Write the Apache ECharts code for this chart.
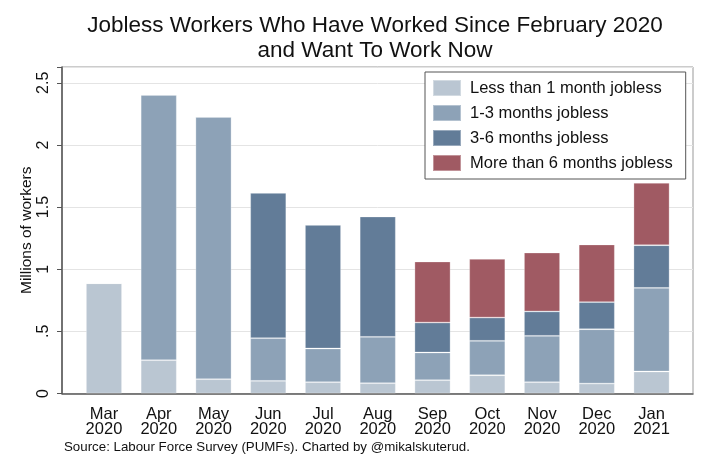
<!DOCTYPE html>
<html>
<head>
<meta charset="utf-8">
<script src="https://cdn.jsdelivr.net/npm/echarts@6/dist/echarts.min.js"></script>
<style>html,body{margin:0;padding:0;background:#fff}#c{width:714px;height:466px}</style>
</head>
<body>
<div id="c"></div>
<script>
const categories = ['Mar\n2020','Apr\n2020','May\n2020','Jun\n2020','Jul\n2020','Aug\n2020','Sep\n2020','Oct\n2020','Nov\n2020','Dec\n2020','Jan\n2021'];
const seriesNames = ['Less than 1 month jobless','1-3 months jobless','3-6 months jobless','More than 6 months jobless'];
const lessThan1 = [0.887, 0.268, 0.115, 0.102, 0.091, 0.083, 0.107, 0.147, 0.091, 0.080, 0.177];
const months1to3 = [0, 2.135, 2.111, 0.343, 0.271, 0.373, 0.223, 0.277, 0.373, 0.437, 0.673];
const months3to6 = [0, 0, 0, 1.170, 0.995, 0.968, 0.241, 0.187, 0.196, 0.218, 0.343];
const months6plus = [0, 0, 0, 0, 0, 0, 0.491, 0.472, 0.474, 0.464, 0.502];
const yTicks = [0, 0.5, 1, 1.5, 2, 2.5];

const colors = ['#BAC6D2', '#8DA2B7', '#627C98', '#A05A63'];
const values = [lessThan1, months1to3, months3to6, months6plus];
const FONT = 'Liberation Sans, Arial, sans-serif';
const YMAX = 2.627;

const chart = echarts.init(document.getElementById('c'), null, {renderer: 'canvas'});
chart.setOption({
  animation: false,
  backgroundColor: '#fff',
  textStyle: {fontFamily: FONT},
  title: {
    text: 'Jobless Workers Who Have Worked Since February 2020\nand Want To Work Now',
    left: 370, top: 8, textAlign: 'center',
    textStyle: {fontFamily: FONT, fontSize: 22.5, fontWeight: 'normal', color: '#111', lineHeight: 25}
  },
  legend: {
    orient: 'vertical',
    left: 425, top: 72,
    data: seriesNames,
    itemWidth: 28, itemHeight: 16, itemGap: 7,
    padding: [7, 13, 7, 7],
    borderColor: '#555', borderWidth: 1,
    backgroundColor: '#fff',
    icon: 'rect',
    textStyle: {fontFamily: FONT, fontSize: 16.5, color: '#111', lineHeight: 16, padding: [0, 0, 0, 4]},
    selectedMode: false
  },
  grid: [
    {left: 62, right: 21, top: 67, bottom: 72.5, show: true, borderColor: '#999', borderWidth: 1, backgroundColor: 'transparent'},
    {left: 76.6, width: 602.3, top: 67, bottom: 72.5}
  ],
  xAxis: [
    {gridIndex: 0, type: 'value', min: 0, max: 1,
     axisLine: {show: true, lineStyle: {color: '#555', width: 1.5}},
     axisTick: {show: false}, axisLabel: {show: false}, splitLine: {show: false}},
    {gridIndex: 1, type: 'category', data: categories,
     axisLine: {show: false}, axisTick: {show: false},
     axisLabel: {fontFamily: FONT, fontSize: 16.5, color: '#111', lineHeight: 14.5, margin: 14, interval: 0}}
  ],
  yAxis: [
    {gridIndex: 0, type: 'value', min: 0, max: YMAX, interval: 0.5,
     name: 'Millions of workers', nameLocation: 'middle', nameGap: 27, nameMoveOverlap: false,
     nameTextStyle: {fontFamily: FONT, fontSize: 15.5, color: '#111'},
     axisLine: {show: true, lineStyle: {color: '#555', width: 1.5}},
     axisTick: {show: true, length: 5, lineStyle: {color: '#555'}},
     axisLabel: {rotate: 90, fontFamily: FONT, fontSize: 16, color: '#111', margin: 10,
       formatter: function (v) {
         if (!yTicks.some(t => Math.abs(t - v) < 1e-6)) return '';
         return String(v).replace(/^0\./, '.');
       }},
     splitLine: {show: true, lineStyle: {color: '#e4e4e4', width: 1}}},
    {gridIndex: 1, type: 'value', min: 0, max: YMAX, show: false, splitLine: {show: false}}
  ],
  series: seriesNames.map((name, i) => ({
    name: name,
    type: 'bar',
    stack: 'total',
    xAxisIndex: 1, yAxisIndex: 1,
    barWidth: 36,
    data: values[i],
    itemStyle: {color: colors[i], borderColor: 'rgba(255,255,255,0.35)', borderWidth: 0.8}
  })),
  graphic: [
    {type: 'text', left: 64, top: 441,
     style: {text: 'Source: Labour Force Survey (PUMFs). Charted by @mikalskuterud.', fontFamily: FONT, fontSize: 13.3, fill: '#111'}}
  ]
});
</script>
</body>
</html>
